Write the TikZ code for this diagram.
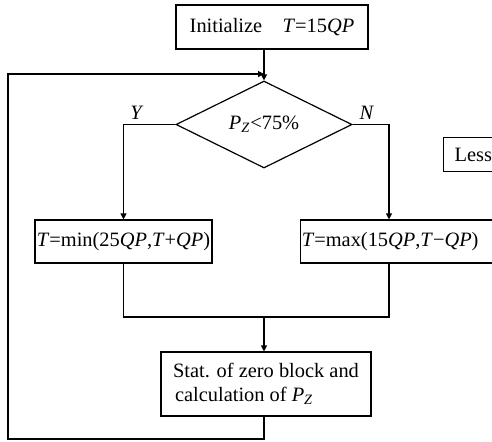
\documentclass[tikz,border=0pt]{standalone}
\usepackage{fontspec}
\setmainfont{Liberation Serif}
\usetikzlibrary{shapes.geometric,arrows.meta}
\begin{document}
\begin{tikzpicture}[x=0.5pt,y=-0.5pt,
  txt/.style={font=\fontsize{10.2}{12}\selectfont},
  box/.style={draw,line width=0.6pt,inner sep=0pt,txt},
  ln/.style={line width=0.6pt},
  arr/.style={ln,-{Triangle[length=3pt,width=3pt]}}]
\clip (0,0) rectangle (492,441);
\node[box,minimum width=96pt,minimum height=22pt] (init) at (272,27) {Initialize\quad\textit{T}=15\textit{QP}};
\node[box,diamond,minimum width=88pt,minimum height=26.5pt] (dec) at (264,124.5) {\textit{P}\textsubscript{\textit{Z}}<75\%};
\node[txt] (ylab) at (137,113) {\textit{Y}};
\node[txt] (nlab) at (367,113) {\textit{N}};
\node[box,minimum width=88.5pt,minimum height=21.5pt] (lbox) at (123.5,241.5) {\textit{T}=min(25\textit{QP},\textit{T}+\textit{QP})};
\node[box,anchor=west,text width=110pt,align=left,inner xsep=0.6pt,minimum height=21.5pt] (rbox) at (300,241.5) {\textit{T}=max(15\textit{QP},\textit{T}−\textit{QP})};
\node[box,minimum width=105pt,minimum height=32pt,align=left] (stat) at (266,384) {Stat. of zero block and\\\hspace{1pt}calculation of \textit{P}\textsubscript{\textit{Z}}};
\node[box,anchor=north west,text width=40pt,align=left,inner xsep=5.5pt,minimum height=17pt] (less) at (443,137) {Less};
\coordinate (m) at (264,317);
\coordinate (bl) at (8,439);
\coordinate (fb) at (264,74);
\draw[arr] (dec.north |- init.south) -- (dec.north);
\draw[arr] (dec.west) -| (lbox.north);
\draw[arr] (dec.east) -| ([xshift=44.5pt]rbox.north west);
\draw[ln] (lbox.south) |- (m);
\draw[ln] ([xshift=44.5pt]rbox.south west) |- (m);
\draw[arr] (m) -- (m |- stat.north);
\draw[arr] (m |- stat.south) -- (m |- bl) -- (bl) -- (bl |- fb) -- (fb);
\end{tikzpicture}
\end{document}
